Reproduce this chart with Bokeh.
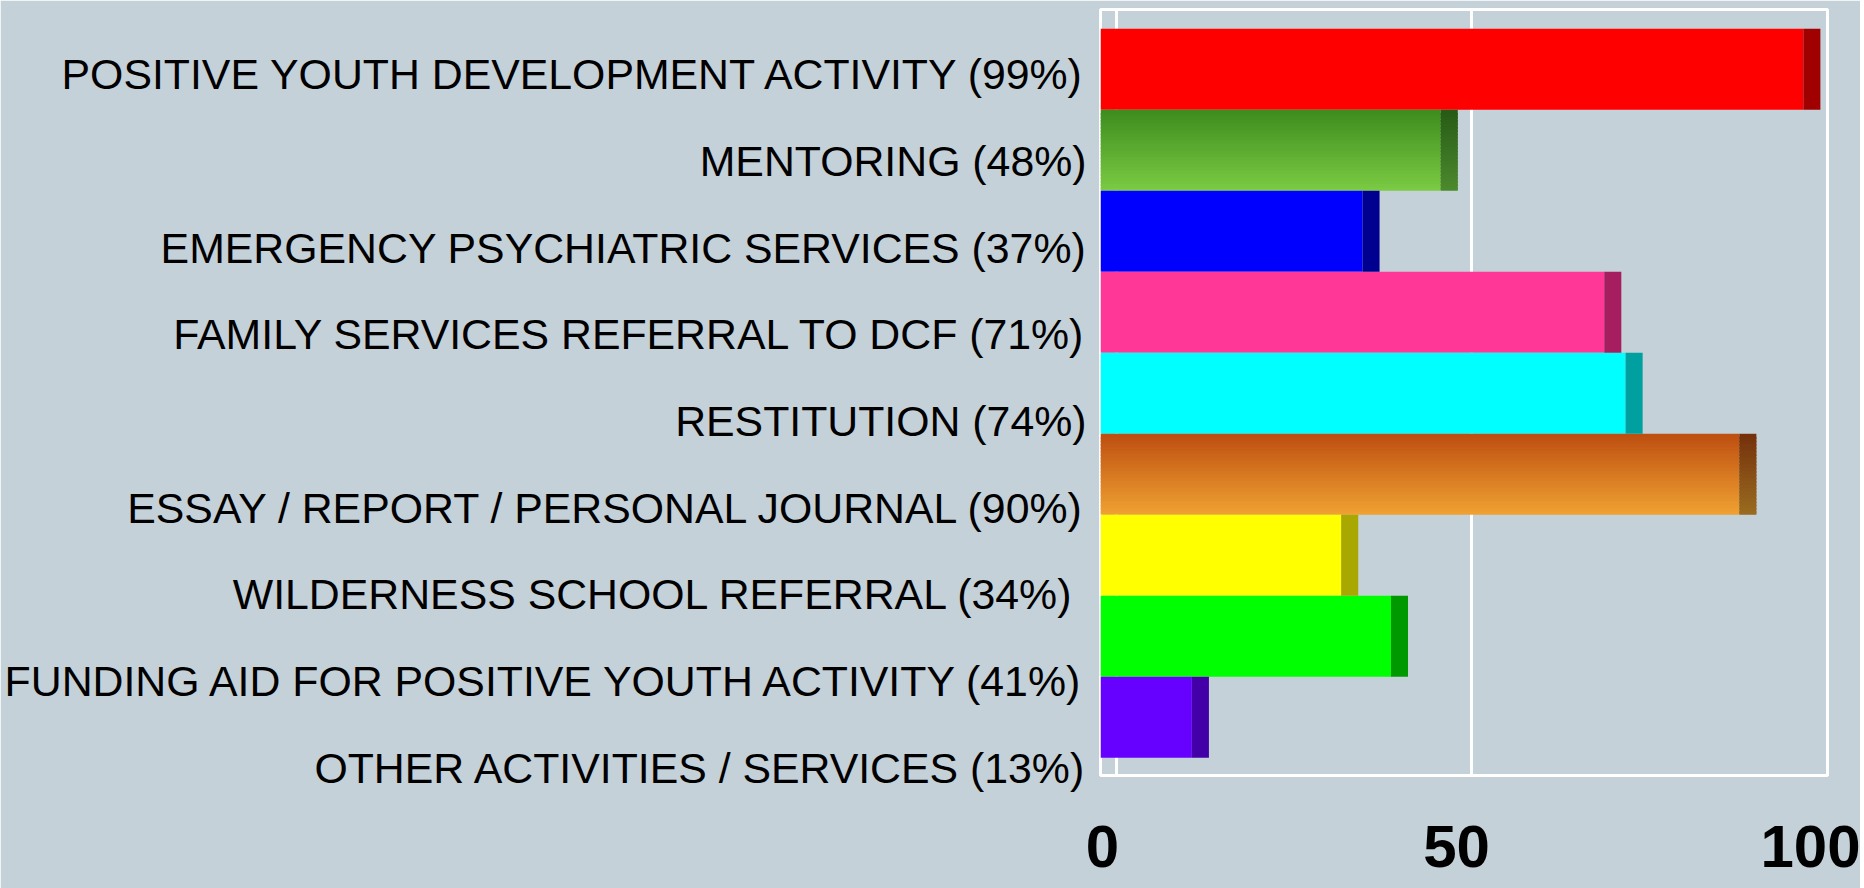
from bokeh.plotting import figure
from bokeh.models import Range1d, LinearAxis, FixedTicker, ColumnDataSource
from bokeh.embed import file_html
from bokeh.resources import INLINE

# ---- data ----
labels = [
    "POSITIVE YOUTH DEVELOPMENT ACTIVITY (99%)",
    "MENTORING (48%)",
    "EMERGENCY PSYCHIATRIC SERVICES (37%)",
    "FAMILY SERVICES REFERRAL TO DCF (71%)",
    "RESTITUTION (74%)",
    "ESSAY / REPORT / PERSONAL JOURNAL (90%)",
    "WILDERNESS SCHOOL REFERRAL (34%) ",
    "FUNDING AID FOR POSITIVE YOUTH ACTIVITY (41%)",
    "OTHER ACTIVITIES / SERVICES (13%)",
]
values = [99, 48, 37, 71, 74, 90, 34, 41, 13]
x_ticks = [0, 50, 100]

# ---- styles ----
face_top = ["#ff0000", "#3d8c1e", "#0000ff", "#ff3898", "#00ffff", "#bd4e10", "#ffff00", "#00ff00", "#6600ff"]
face_bot = ["#ff0000", "#7ccb44", "#0000ff", "#ff3898", "#00ffff", "#f0a232", "#ffff00", "#00ff00", "#6600ff"]
side_top = ["#a00000", "#275a15", "#000090", "#a61e60", "#00a0a0", "#74300c", "#a8a800", "#009a00", "#4400a8"]
side_bot = ["#a00000", "#4c8a2e", "#000090", "#a61e60", "#00a0a0", "#9a6c20", "#a8a800", "#009a00", "#4400a8"]
BG = "#c5d1d8"
DEPTH = 2.4
X0 = -2.25
N = 24


def hx(c):
    c = c.lstrip("#")
    return [int(c[i:i + 2], 16) for i in (0, 2, 4)]


def lerp(c1, c2, t):
    a, b = hx(c1), hx(c2)
    return "#%02x%02x%02x" % tuple(int(round(a[k] + (b[k] - a[k]) * t)) for k in range(3))


front = dict(left=[], right=[], top=[], bottom=[], color=[])
side = dict(left=[], right=[], top=[], bottom=[], color=[])
for i, v in enumerate(values):
    grad = face_top[i] != face_bot[i]
    n = N if grad else 1
    for k in range(n):
        t0 = i - 0.5 + k / n
        t1 = i - 0.5 + (k + 1) / n
        if k < n - 1:
            t1 += 0.6 / n
        tc = (k + 0.5) / n
        front["left"].append(X0)
        front["right"].append(v - DEPTH)
        front["top"].append(t0)
        front["bottom"].append(t1)
        front["color"].append(lerp(face_top[i], face_bot[i], tc))
        side["left"].append(v - DEPTH)
        side["right"].append(v)
        side["top"].append(t0)
        side["bottom"].append(t1)
        side["color"].append(lerp(side_top[i], side_bot[i], tc))

p = figure(
    width=1860, height=888,
    x_range=Range1d(X0, 100.0),
    y_range=Range1d(8.719, -0.738),
    x_axis_location=None, y_axis_location=None,
    output_backend="svg", toolbar_location=None,
    min_border_left=1100, min_border_right=33,
    min_border_top=9, min_border_bottom=113,
)
p.background_fill_color = BG
p.border_fill_color = BG
p.outline_line_color = "white"
p.outline_line_width = 3

p.extra_y_ranges = {"lab": Range1d(8.088, -0.747)}
p.extra_x_ranges = {"tick": Range1d(-0.28, 102.4)}

p.ygrid.visible = False
p.xgrid.ticker = FixedTicker(ticks=x_ticks)
p.xgrid.grid_line_color = "white"
p.xgrid.grid_line_width = 3

p.quad(left="left", right="right", top="top", bottom="bottom", color="color",
       line_color=None, source=ColumnDataSource(front))
p.quad(left="left", right="right", top="top", bottom="bottom", color="color",
       line_color=None, source=ColumnDataSource(side))

yax = LinearAxis(y_range_name="lab", ticker=FixedTicker(ticks=list(range(len(labels)))))
yax.major_label_overrides = {i: s for i, s in enumerate(labels)}
yax.axis_line_color = None
yax.major_tick_line_color = None
yax.minor_tick_line_color = None
yax.major_tick_out = 0
yax.major_tick_in = 0
yax.minor_tick_out = 0
yax.major_label_standoff = 14
yax.major_label_text_font = "Liberation Sans"
yax.major_label_text_font_size = "42.8px"
yax.major_label_text_color = "black"
p.add_layout(yax, "left")

xax = LinearAxis(x_range_name="tick", ticker=FixedTicker(ticks=x_ticks))
xax.axis_line_color = None
xax.major_tick_line_color = None
xax.minor_tick_line_color = None
xax.major_tick_out = 0
xax.major_tick_in = 0
xax.minor_tick_out = 0
xax.major_label_standoff = 50
xax.major_label_text_font = "Liberation Sans"
xax.major_label_text_font_style = "bold"
xax.major_label_text_font_size = "60px"
xax.major_label_text_color = "black"
p.add_layout(xax, "below")

open("out.html", "w").write(file_html(p, INLINE))
